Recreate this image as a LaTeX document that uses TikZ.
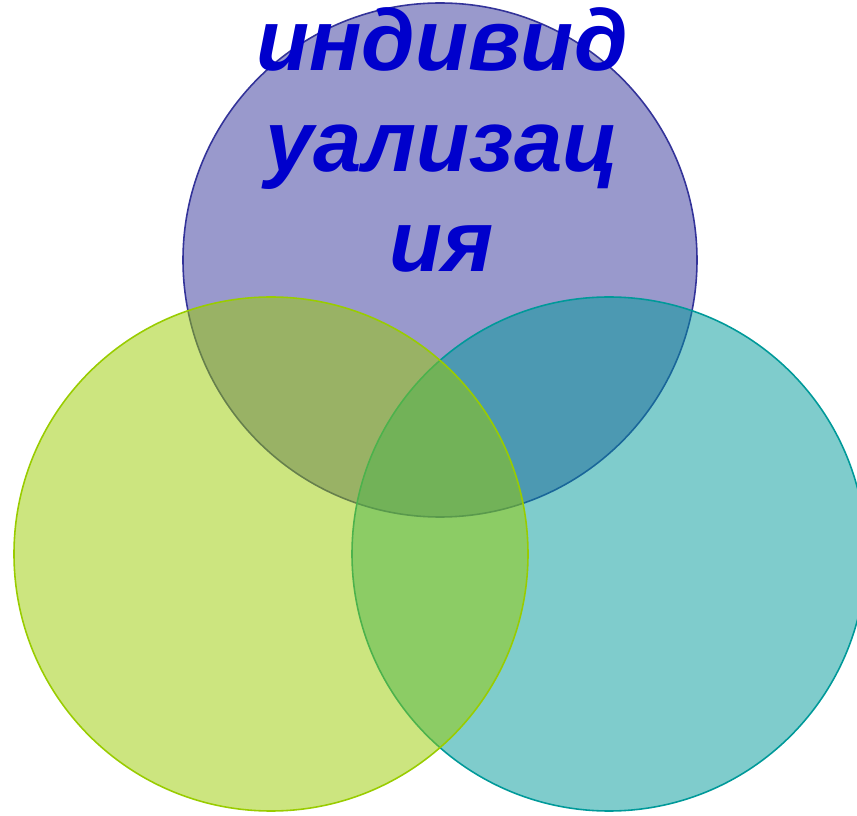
\documentclass[tikz,border=0pt]{standalone}
\usepackage{fontspec}
\setmainfont{Liberation Sans}
\usetikzlibrary{positioning, calc}

\definecolor{topblue}{HTML}{333399}
\definecolor{leftgreen}{HTML}{99CC00}
\definecolor{rightteal}{HTML}{009999}
\definecolor{wordblue}{HTML}{0000CC}

\begin{document}
\begin{tikzpicture}[
    % Define the circle styles of the diagram
    set_node/.style={circle, minimum size=10.28cm, inner sep=0pt, line width=0.9pt, fill opacity=0.5},
    top_set/.style={set_node, draw=topblue, fill=topblue},
    left_set/.style={set_node, draw=leftgreen, fill=leftgreen},
    right_set/.style={set_node, draw=rightteal, fill=rightteal},
    word/.style={font=\fontsize{49.4}{57.2}\selectfont\bfseries\itshape, text=wordblue, align=center, inner sep=0pt}
]

    % Picture frame (857 x 815 px, 1px = 0.02cm)
    \useasboundingbox (0,0) rectangle (17.14,16.3);
    \clip (0,0) rectangle (17.14,16.3);

    % --- The three sets ---
    \node[top_set] (top) at (8.8, 11.1) {};
    \node[right_set] (right) at (12.18, 5.22) {};
    \node[left_set] (left) at (5.42, 5.22) {};

    % --- Label of the top set (base = last line) ---
    \node[word, anchor=base] (name) at ($(top.center) + (0.04, -0.24)$) {индивид\\уализац\\ия};

\end{tikzpicture}
\end{document}
